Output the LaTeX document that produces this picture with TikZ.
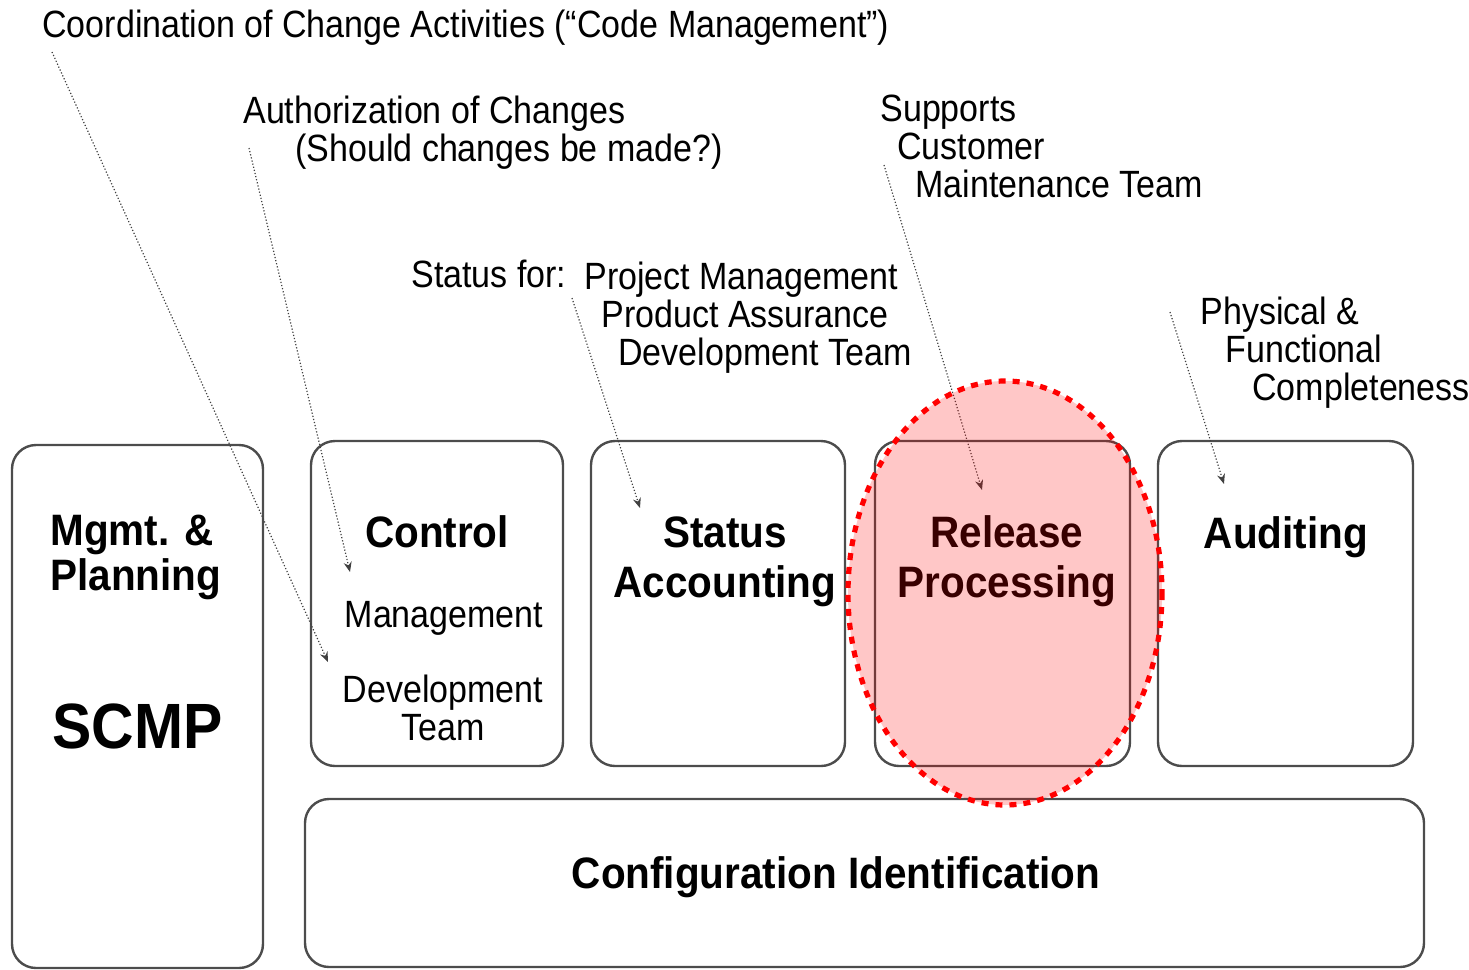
\documentclass[tikz,border=0pt]{standalone}
\usepackage{fontspec}
\setmainfont{Liberation Sans}
\newfontfamily\notefont[FakeStretch=0.895]{Liberation Sans}
\newfontfamily\boxfont[FakeStretch=0.92]{Liberation Sans}
\usetikzlibrary{arrows.meta}

\tikzset{
	area/.style={draw=gray!60!black, line width=1.2pt, rounded corners=12pt},
	title/.style={font=\boxfont\bfseries\fontsize{22}{25}\selectfont, align=center, inner sep=0},
	note/.style={font=\notefont\fontsize{19}{19}\selectfont, align=left, inner sep=0},
	leader/.style={densely dotted, gray!50!black, line width=0.6pt, -{Stealth[length=5pt,width=4pt]}},
	hilite/.style={draw=red, fill=red, fill opacity=0.22, draw opacity=1, line width=2.6pt, dash pattern=on 3.5pt off 3.5pt}
}

\begin{document}
\begin{tikzpicture}[x=0.5pt, y=-0.5pt]
	\useasboundingbox (0,0) rectangle (1469,970);
	% the six areas
	\draw [area] (12,445) rectangle (263,968);
	\draw [area] (311,441) rectangle (563,766);
	\draw [area] (591,441) rectangle (845,766);
	\draw [area] (875,441) rectangle (1130,766);
	\draw [area] (1158,441) rectangle (1413,766);
	\draw [area] (305,799) rectangle (1424,967);

	% texts in the areas (base = last line)
	\node (mgmt) [title, align=left, anchor=base west, font=\boxfont\bfseries\fontsize{22}{22.5}\selectfont] at (50,590) {Mgmt. \&\\Planning};
	\node (scmp) [title, anchor=base west, font=\boxfont\bfseries\fontsize{32}{32}\selectfont] at (52,748) {SCMP};
	\node (control) [title, anchor=base] at (437,547) {Control};
	\node (mgmtsub) [note, anchor=base] at (444,627) {Management};
	\node (devteam) [note, align=center, anchor=base] at (443,740) {Development\\Team};
	\node (status) [title, anchor=base] at (725,597) {Status\\Accounting};
	\node (release) [title, anchor=base] at (1007,597) {Release\\Processing};
	\node (auditing) [title, anchor=base] at (1286,548) {Auditing};
	\node (config) [title, anchor=base] at (836,888) {Configuration Identification};

	% notes above
	\node (coordnote) [note, anchor=base west] at (42,37) {Coordination of Change Activities (“Code Management”)};
	\node (authnote) [note, anchor=base west] at (243,161) {Authorization of Changes\\\hspace*{26pt}(Should changes be made?)};
	\node (statusfor) [note, anchor=base west] at (411,287) {Status for:};
	\node (statusnote) [note, anchor=base west] at (584,365) {Project Management\\\hspace*{8.5pt}Product Assurance\\\hspace*{17pt}Development Team};
	\node (supportnote) [note, anchor=base west] at (880,197) {Supports\\\hspace*{8.5pt}Customer\\\hspace*{17.5pt}Maintenance Team};
	\node (physnote) [note, anchor=base west] at (1200,400) {Physical \&\\\hspace*{12.5pt}Functional\\\hspace*{26pt}Completeness};

	% leader lines
	\coordinate (coordtail) at (52,52);
	\coordinate (coordhead) at (328,662);
	\coordinate (authtail) at (249,148);
	\coordinate (authhead) at (350,572);
	\coordinate (statustail) at (572,298);
	\coordinate (statushead) at (640,508);
	\coordinate (supporttail) at (884,165);
	\coordinate (supporthead) at (982,490);
	\coordinate (phystail) at (1170,312);
	\coordinate (physhead) at (1224,484);
	\draw [leader] (coordtail) -- (coordhead);
	\draw [leader] (authtail) -- (authhead);
	\draw [leader] (statustail) -- (statushead);
	\draw [leader] (supporttail) -- (supporthead);
	\draw [leader] (phystail) -- (physhead);

	% highlight
	\draw [hilite] (1005,593) ellipse [x radius=157, y radius=212];
\end{tikzpicture}
\end{document}
